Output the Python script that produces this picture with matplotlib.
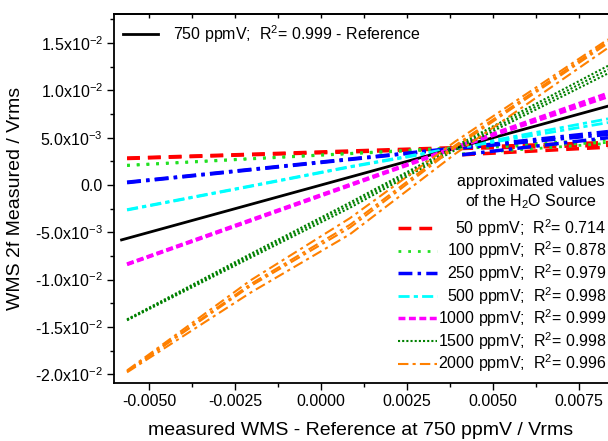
import numpy as np
import matplotlib
matplotlib.use('Agg')
import matplotlib.pyplot as plt
from matplotlib.ticker import MultipleLocator

plt.rcParams['font.family'] = ['Liberation Sans', 'DejaVu Sans']
plt.rcParams['mathtext.default'] = 'regular'
plt.rcParams['axes.unicode_minus'] = False

x_nodes = np.array([-5.64, -2.06, 0.84, 3.9, 8.34])

# y values (x 1e-3 Vrms), several traces per concentration
y_50 = [[2.85, 3.25, 3.6, 3.95, 4.5],
        [2.8, 3.2, 3.5, 3.85, 4.2]]
y_100 = [[2.1, 2.8, 3.35, 3.95, 4.8],
         [2.05, 2.75, 3.3, 3.85, 4.5]]
y_250 = [[0.3, 1.65, 2.75, 3.9, 5.65],
         [0.25, 1.6, 2.7, 3.85, 5.35]]
y_500 = [[-2.6, -0.1, 1.95, 3.95, 7.0],
         [-2.65, -0.15, 1.9, 3.85, 6.6]]
y_1000 = [[-8.35, -3.7, 0.05, 4.0, 9.7],
          [-8.4, -3.8, -0.05, 3.9, 9.35]]
y_1500 = [[-14.2, -7.3, -1.85, 4.1, 12.6],
          [-14.25, -7.5, -2.1, 3.9, 12.2],
          [-14.3, -7.7, -2.4, 3.7, 11.8]]
y_2000 = [[-19.6, -10.1, -3.5, 4.6, 15.4],
          [-19.7, -10.5, -4.2, 4.2, 15.2],
          [-19.7, -10.7, -4.5, 4.0, 15.0],
          [-19.8, -11.4, -5.2, 3.3, 14.5]]

# return traces of the low concentrations (right of the crossing point)
x_return = [4.1, 8.34]
y_return_50 = [3.2, 4.0]
y_return_100 = [3.3, 4.4]
y_return_250 = [3.2, 5.0]

# reference 750 ppmV
x_ref = [-5.8, 8.34]
y_ref = [-5.8, 8.34]

conc = ['50', '100', '250', '500', '1000', '1500', '2000']
r2 = ['0.714', '0.878', '0.979', '0.998', '0.999', '0.998', '0.996']
colors = ['#ff0000', '#22e022', '#0000ff', '#00ffff', '#ff00ff', '#008000', '#ff8000']
styles = [(0, (3.7, 2.3)), (0, (1, 2.5)), (0, (4, 1.5, 1, 1.5)), (0, (4, 1.5, 1.5, 1.5)),
          (0, (2, 1)), (0, (1, 1)), (0, (5, 2, 1.5, 2))]
widths = [2.5, 2, 2.5, 2, 2.5, 1.5, 1.5]

all_y = [y_50, y_100, y_250, y_500, y_1000, y_1500, y_2000]
returns = {0: y_return_50, 1: y_return_100, 2: y_return_250}

xticks = [-0.005, -0.0025, 0.0, 0.0025, 0.005, 0.0075]
xtick_labels = ['-0.0050', '-0.0025', '0.0000', '0.0025', '0.0050', '0.0075']
yticks = [-0.02, -0.015, -0.01, -0.005, 0.0, 0.005, 0.01, 0.015]
ytick_labels = ['-2.0x10$^{-2}$', '-1.5x10$^{-2}$', '-1.0x10$^{-2}$', '-5.0x10$^{-3}$',
                '0.0', '5.0x10$^{-3}$', '1.0x10$^{-2}$', '1.5x10$^{-2}$']

fig = plt.figure(figsize=(6.08, 4.41), dpi=100)
ax = fig.add_axes([114 / 608, 58 / 441, 494 / 608, 369 / 441])

for i in range(4):
    for tr in all_y[i]:
        ax.plot(x_nodes * 1e-3, np.array(tr) * 1e-3, color=colors[i], ls=styles[i], lw=widths[i])
    if i in returns:
        ax.plot(np.array(x_return) * 1e-3, np.array(returns[i]) * 1e-3,
                color=colors[i], ls=styles[i], lw=widths[i])
ax.plot(np.array(x_ref) * 1e-3, np.array(y_ref) * 1e-3, color='black', lw=2)
for i in range(4, 7):
    for tr in all_y[i]:
        ax.plot(x_nodes * 1e-3, np.array(tr) * 1e-3, color=colors[i], ls=styles[i], lw=widths[i])

ax.set_xlim(-0.00602, 0.00834)
ax.set_ylim(-0.02093, 0.01808)
ax.set_xticks(xticks)
ax.set_xticklabels(xtick_labels)
ax.set_yticks(yticks)
ax.set_yticklabels(ytick_labels)
ax.xaxis.set_minor_locator(MultipleLocator(0.00125))
ax.yaxis.set_minor_locator(MultipleLocator(0.0025))
ax.tick_params(which='major', direction='out', length=5, width=1, labelsize=11.5, pad=3)
ax.tick_params(which='minor', direction='out', length=3, width=1)
ax.spines['right'].set_visible(False)
for s in ['left', 'bottom', 'top']:
    ax.spines[s].set_linewidth(1.3)

top = ax.secondary_xaxis('top')
top.set_xticks(xticks)
top.xaxis.set_minor_locator(MultipleLocator(0.00125))
top.tick_params(which='both', direction='in', length=3, width=1, labeltop=False)
top.spines['top'].set_linewidth(1.3)

ax.set_xlabel('measured WMS - Reference at 750 ppmV / Vrms', fontsize=14, labelpad=9)
ax.set_ylabel('WMS 2f Measured / Vrms', fontsize=14, labelpad=8)

# legend: reference
ax.plot([0.018, 0.089], [0.946, 0.946], transform=ax.transAxes, color='black', lw=2)
ax.text(0.119, 0.946, '750 ppmV;  R$^2$= 0.999 - Reference', transform=ax.transAxes,
        va='center', fontsize=11.5)

# legend: H2O source
ax.text(0.844, 0.516, 'approximated values\nof the H$_2$O Source', transform=ax.transAxes,
        ha='center', va='center', fontsize=11.5, linespacing=1.2)
for i in range(7):
    yy = 0.420 - i * 0.0612
    ax.plot([0.575, 0.654], [yy, yy], transform=ax.transAxes, color=colors[i],
            ls=styles[i], lw=widths[i])
    ax.text(0.997, yy, conc[i] + ' ppmV;  R$^2$= ' + r2[i], transform=ax.transAxes,
            ha='right', va='center', fontsize=11.5)

fig.savefig('out.png', dpi=100)
